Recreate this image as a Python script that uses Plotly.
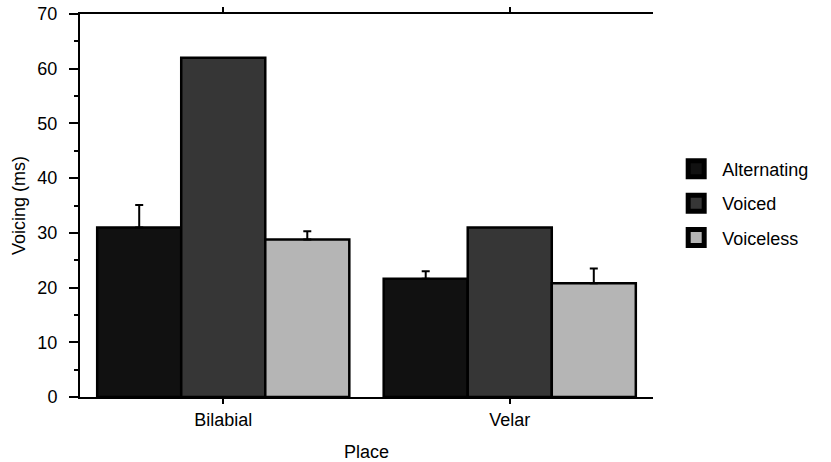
import plotly.graph_objects as go

places = ["Bilabial", "Velar"]
series = ["Alternating", "Voiced", "Voiceless"]
alternating = [31.0, 21.6]
voiced = [62.0, 31.0]
voiceless = [28.8, 20.8]
err_alternating = [4.1, 1.4]
err_voiced = [0.0, 0.0]
err_voiceless = [1.5, 2.7]
colors = ["#111111", "#363636", "#b5b5b5"]

values = [alternating, voiced, voiceless]
errors = [err_alternating, err_voiced, err_voiceless]

fig = go.Figure()
for name, vals, errs, col in zip(series, values, errors, colors):
    fig.add_trace(go.Bar(
        x=places, y=vals, name=name, showlegend=False,
        marker=dict(color=col, line=dict(color="black", width=2.5)),
        error_y=dict(type="data", array=errs, arrayminus=[0] * len(errs),
                     symmetric=False, color="black", thickness=2, width=4,
                     visible=any(e > 0 for e in errs)),
    ))
for name, col in zip(series, colors):
    fig.add_trace(go.Scatter(
        x=[None], y=[None], mode="markers", name=name, legendgroup=name,
        marker=dict(symbol="square", size=16, color=col,
                    line=dict(color="black", width=5)),
    ))

font = dict(family="Liberation Sans, Arial, sans-serif", size=18, color="black")
fig.update_layout(
    width=831, height=462,
    margin=dict(l=80, r=178, t=14, b=65),
    paper_bgcolor="white", plot_bgcolor="white",
    font=font,
    barmode="group", bargap=0.12, bargroupgap=0,
    showlegend=True,
    legend=dict(x=1.03, y=0.505, xanchor="left", yanchor="middle",
                font=dict(size=18), tracegroupgap=8, itemsizing="trace",
                itemwidth=42, traceorder="grouped"),
    xaxis=dict(title=dict(text="Place", standoff=17, font=dict(size=18)),
               showline=True, linecolor="black",
               linewidth=2, mirror="ticks", ticks="outside", ticklen=5,
               tickwidth=1.5, tickcolor="black", range=[-0.5, 1.5],
               tickfont=dict(size=18), automargin=False,
               showgrid=False, zeroline=False),
    yaxis=dict(title=dict(text="Voicing (ms)", standoff=7, font=dict(size=18)),
               range=[0, 70], tickfont=dict(size=18), automargin=False,
               dtick=10, showline=True, linecolor="black", linewidth=2,
               ticks="outside", ticklen=9, tickwidth=1.5, tickcolor="black",
               ticklabelstandoff=8,
               minor=dict(dtick=5, ticks="outside", ticklen=4, tickwidth=1.5,
                          tickcolor="black", showgrid=False),
               showgrid=False, zeroline=False),
    yaxis2=dict(overlaying="y", side="right", range=[0, 70], dtick=5,
                showline=True, linecolor="black", linewidth=2, ticks="outside",
                ticklen=7, tickwidth=1.5, tickcolor="black", automargin=False,
                showticklabels=False, showgrid=False, zeroline=False),
)
fig.write_html("out.html", config={"displayModeBar": False},
               post_script="document.body.style.margin='0';document.body.style.padding='0';")
